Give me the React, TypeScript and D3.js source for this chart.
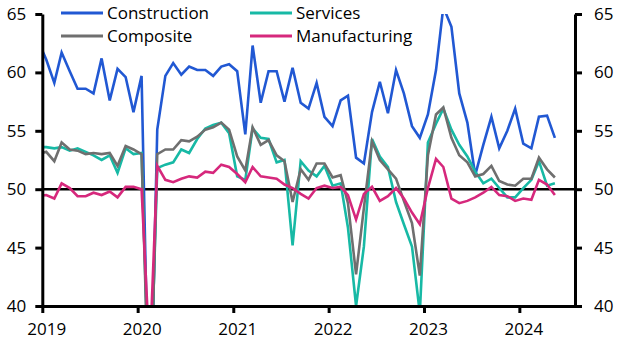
import React, { useEffect, useRef } from 'react';
import * as d3 from 'd3';

// monthly readings, Dec 2018 .. May 2024 (first point sits just left of the axis and gets clipped)
const startMonth = new Date(2018, 11, 16);
const construction = [
  62.7,
  61.1, 59.1, 61.7, 60.1, 58.6, 58.6, 58.2, 61.2, 57.6, 60.3, 59.6, 56.6,
  59.7, 26.6, 55.1, 59.7, 60.8, 59.8, 60.5, 60.2, 60.2, 59.7, 60.5, 60.7,
  60.1, 54.7, 62.3, 57.4, 60.1, 60.1, 57.5, 60.4, 57.4, 56.9, 59.1, 56.2,
  55.4, 57.6, 58.0, 52.7, 52.2, 56.6, 59.2, 56.5, 60.2, 58.2, 55.4, 54.4,
  56.4, 60.2, 65.6, 63.9, 58.2, 55.7, 51.2, 53.8, 56.2, 53.5, 55.0, 56.9,
  53.9, 53.5, 56.2, 56.3, 54.4,
];
const services = [
  53.6,
  53.6, 53.5, 53.6, 53.3, 53.5, 53.2, 52.9, 52.5, 52.9, 51.4, 53.5, 53.0,
  53.1, 30.1, 51.8, 52.1, 52.3, 53.4, 53.1, 54.3, 55.2, 55.5, 55.7, 54.8,
  51.1, 50.8, 55.2, 54.4, 54.3, 52.3, 52.5, 45.2, 52.4, 51.6, 51.1, 52.0,
  50.3, 50.5, 46.7, 40.0, 45.1, 54.3, 52.8, 51.9, 48.9, 47.0, 45.1, 39.4,
  54.0, 55.6, 56.9, 55.1, 53.8, 52.8, 51.5, 50.5, 50.9, 50.1, 49.3, 49.3,
  50.1, 50.8, 52.4, 50.3, 50.5,
];
const composite = [
  53.0,
  53.2, 52.4, 54.0, 53.4, 53.3, 53.0, 53.1, 53.0, 53.1, 52.0, 53.7, 53.4,
  53.0, 28.9, 53.0, 53.4, 53.4, 54.2, 54.1, 54.5, 55.1, 55.3, 55.7, 55.1,
  52.8, 51.6, 55.3, 53.8, 54.2, 52.9, 52.4, 48.9, 51.7, 50.8, 52.2, 52.2,
  51.0, 51.2, 48.8, 42.7, 48.4, 54.1, 52.5, 51.7, 50.9, 49.0, 47.1, 42.6,
  52.9, 56.4, 57.0, 54.4, 52.9, 52.3, 51.1, 51.3, 52.0, 50.7, 50.4, 50.3,
  50.9, 50.9, 52.7, 51.7, 51.0,
];
const manufacturing = [
  49.4,
  49.5, 49.2, 50.5, 50.1, 49.4, 49.4, 49.7, 49.5, 49.8, 49.3, 50.2, 50.2,
  50.0, 35.7, 52.0, 50.8, 50.6, 50.9, 51.1, 51.0, 51.5, 51.4, 52.1, 51.9,
  51.3, 50.6, 51.9, 51.1, 51.0, 50.9, 50.4, 50.1, 49.6, 49.2, 50.1, 50.3,
  50.1, 50.2, 49.5, 47.4, 49.6, 50.2, 49.0, 49.4, 50.1, 49.2, 48.0, 47.0,
  50.1, 52.6, 51.9, 49.2, 48.8, 49.0, 49.3, 49.7, 50.2, 49.5, 49.4, 49.0,
  49.2, 49.1, 50.8, 50.4, 49.5,
];

const seriesNames = ['Construction', 'Services', 'Composite', 'Manufacturing'];
const seriesValues = [construction, services, composite, manufacturing];
const colors = ['#2158d3', '#17b9a5', '#6f6f6f', '#d6287c'];

const yTicks = [40, 45, 50, 55, 60, 65];
const xTickYears = [2019, 2020, 2021, 2022, 2023, 2024];

const w = 627;
const h = 352;
const left = 42.3;
const right = 575;
const top = 14;
const bottom = 306;
const font = '"Open Sans", sans-serif';

const App = () => {
  const svgRef = useRef(null);

  useEffect(() => {
    const svg = d3.select(svgRef.current);
    svg.selectAll('*').remove();

    const x = d3
      .scaleTime()
      .domain([new Date(2019, 0, 1), new Date(2024, 7, 1)])
      .range([left, right]);
    const y = d3.scaleLinear().domain([40, 65]).range([bottom, top]);

    const dates = construction.map((_, i) => d3.timeMonth.offset(startMonth, i));

    svg.append('defs')
      .append('clipPath')
      .attr('id', 'plot-clip')
      .append('rect')
      .attr('x', left)
      .attr('y', top)
      .attr('width', right - left)
      .attr('height', bottom - top);

    // 50 line
    svg.append('line')
      .attr('x1', left)
      .attr('x2', right)
      .attr('y1', y(50))
      .attr('y2', y(50))
      .attr('stroke', '#000')
      .attr('stroke-width', 2.6);

    const line = d3
      .line()
      .x((d, i) => x(dates[i]))
      .y((d) => y(d));

    const g = svg.append('g').attr('clip-path', 'url(#plot-clip)');
    seriesValues.forEach((vals, k) => {
      g.append('path')
        .datum(vals)
        .attr('d', line)
        .attr('fill', 'none')
        .attr('stroke', colors[k])
        .attr('stroke-width', 2.6)
        .attr('stroke-linejoin', 'miter');
    });

    const styleAxis = (sel) => {
      sel.select('.domain').attr('stroke', '#000').attr('stroke-width', 3);
      sel.selectAll('.tick line').attr('stroke', '#000').attr('stroke-width', 3);
      sel.selectAll('.tick text')
        .attr('fill', '#000')
        .style('font-family', font)
        .style('font-size', '17px');
    };

    svg.append('g')
      .attr('transform', 'translate(' + left + ',0)')
      .call(d3.axisLeft(y).tickValues(yTicks).tickSize(7).tickSizeOuter(0).tickPadding(9))
      .call(styleAxis);

    svg.append('g')
      .attr('transform', 'translate(' + right + ',0)')
      .call(d3.axisRight(y).tickValues(yTicks).tickSize(7).tickSizeOuter(0).tickPadding(12))
      .call(styleAxis);

    const xAxis = svg.append('g')
      .attr('transform', 'translate(0,' + bottom + ')')
      .call(
        d3.axisBottom(x)
          .tickValues(xTickYears.map((yr) => new Date(yr, 0, 1)))
          .tickFormat(d3.timeFormat('%Y'))
          .tickSize(7)
          .tickSizeOuter(0)
          .tickPadding(10)
      )
      .call(styleAxis);
    xAxis.selectAll('.tick text').attr('dx', 4);

    // legend, two rows of two
    const legendX = [61, 250];
    const legendY = [13, 36];
    seriesNames.forEach((name, k) => {
      const lx = legendX[k % 2];
      const ly = legendY[Math.floor(k / 2)];
      svg.append('line')
        .attr('x1', lx)
        .attr('x2', lx + 42)
        .attr('y1', ly)
        .attr('y2', ly)
        .attr('stroke', colors[k])
        .attr('stroke-width', 3);
      svg.append('text')
        .attr('x', lx + 46)
        .attr('y', ly)
        .attr('dy', '0.35em')
        .attr('fill', '#000')
        .style('font-family', font)
        .style('font-size', '17px')
        .text(name);
    });
  }, []);

  return (
    <div>
      <svg
        ref={svgRef}
        width={w}
        height={h}
        style={{ position: 'absolute', left: 0, top: 0, background: '#fff' }}
      ></svg>
    </div>
  );
};

export default App;
